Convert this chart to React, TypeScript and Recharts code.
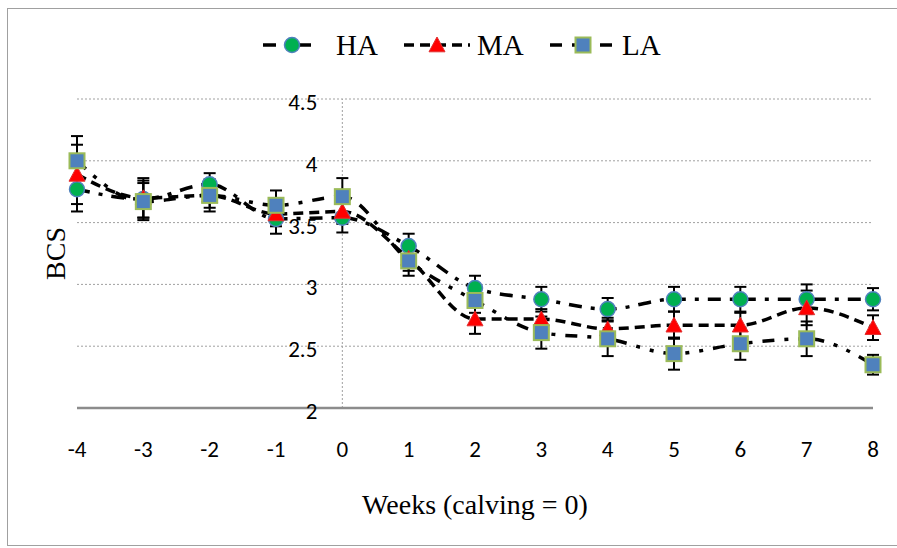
import { LineChart, Line, XAxis, YAxis, CartesianGrid, ReferenceLine, ErrorBar, Label } from 'recharts';

// weeks relative to calving
const weeks = [-4, -3, -2, -1, 0, 1, 2, 3, 4, 5, 6, 7, 8];
const yTicks = [2, 2.5, 3, 3.5, 4, 4.5];

// body condition score, high / medium / low groups
const haValues = [3.77, 3.69, 3.81, 3.53, 3.54, 3.31, 2.97, 2.88, 2.8, 2.88, 2.88, 2.88, 2.88];
const maValues = [3.89, 3.7, 3.72, 3.57, 3.59, 3.21, 2.72, 2.72, 2.64, 2.67, 2.67, 2.81, 2.65];
const laValues = [4.0, 3.67, 3.72, 3.64, 3.71, 3.19, 2.87, 2.61, 2.56, 2.44, 2.52, 2.56, 2.35];

// standard errors
const haErrors = [0.18, 0.15, 0.09, 0.12, 0.12, 0.1, 0.1, 0.1, 0.09, 0.1, 0.1, 0.12, 0.09];
const maErrors = [0.24, 0.16, 0.1, 0.1, 0.1, 0.1, 0.12, 0.08, 0.09, 0.11, 0.1, 0.14, 0.1];
const laErrors = [0.2, 0.15, 0.13, 0.12, 0.15, 0.12, 0.1, 0.13, 0.14, 0.13, 0.13, 0.14, 0.08];

const data = weeks.map((w, i) => ({
  week: w,
  ha: haValues[i],
  haErr: haErrors[i],
  ma: maValues[i],
  maErr: maErrors[i],
  la: laValues[i],
  laErr: laErrors[i],
}));

const W = 897;
const H = 548;
const PLOT_LEFT = 77;
const PLOT_RIGHT = 873;
const PLOT_TOP = 99;
const PLOT_BOTTOM = 408;
const X_ZERO = PLOT_LEFT + ((0 - weeks[0]) / (weeks[weeks.length - 1] - weeks[0])) * (PLOT_RIGHT - PLOT_LEFT);

const SERIF = '"Liberation Serif", "Times New Roman", serif';
const TICK_FONT = 'Carlito, "Liberation Sans Narrow", "DejaVu Sans Condensed", sans-serif';

const HA_DASH = '13 9 4 9';
const MA_DASH = '10 6';
const LA_DASH = '12 10 4 10 4 10';

function Circle({ cx, cy }: any) {
  if (cx == null || cy == null) return null;
  return <circle cx={cx} cy={cy} r={7.5} fill="#00B050" stroke="#4F81BD" strokeWidth={1.5} />;
}

function Triangle({ cx, cy }: any) {
  if (cx == null || cy == null) return null;
  const s = 8;
  return (
    <polygon
      points={`${cx},${cy - s} ${cx + s},${cy + s * 0.85} ${cx - s},${cy + s * 0.85}`}
      fill="#FF0000"
      stroke="#E03030"
      strokeWidth={1}
    />
  );
}

function Square({ cx, cy }: any) {
  if (cx == null || cy == null) return null;
  return <rect x={cx - 7.5} y={cy - 7.5} width={15} height={15} fill="#4F81BD" stroke="#9BBB59" strokeWidth={2} />;
}

function YTick({ y, payload }: any) {
  return (
    <text x={X_ZERO - 25} y={y + 3} textAnchor="end" dominantBaseline="central" fontFamily={TICK_FONT} fontSize={23} fill="#000">
      {payload.value}
    </text>
  );
}

function XTick({ x, payload }: any) {
  return (
    <text x={x} y={PLOT_BOTTOM + 41} textAnchor="middle" dominantBaseline="central" fontFamily={TICK_FONT} fontSize={23} fill="#000">
      {payload.value}
    </text>
  );
}

function ChartLegend() {
  const y = 45;
  return (
    <svg width={W} height={80} style={{ position: 'absolute', left: 0, top: 0 }}>
      <line x1={263} y1={y} x2={318} y2={y} stroke="#000" strokeWidth={3.5} strokeDasharray={HA_DASH} />
      <Circle cx={292} cy={y} />
      <text x={336} y={y + 10} fontFamily={SERIF} fontSize={29}>HA</text>

      <line x1={404} y1={y} x2={470} y2={y} stroke="#000" strokeWidth={3.5} strokeDasharray={MA_DASH} />
      <Triangle cx={437} cy={y} />
      <text x={477} y={y + 10} fontFamily={SERIF} fontSize={29}>MA</text>

      <line x1={550} y1={y} x2={612} y2={y} stroke="#000" strokeWidth={3.5} strokeDasharray={LA_DASH} />
      <Square cx={583} cy={y} />
      <text x={622} y={y + 10} fontFamily={SERIF} fontSize={29}>LA</text>
    </svg>
  );
}

export default function App() {
  return (
    <div style={{ position: 'absolute', left: 0, top: 0, width: W, height: H, overflow: 'hidden', background: '#fff' }}>
      <div
        style={{
          position: 'absolute',
          left: 7,
          top: 8,
          width: 900,
          height: 538,
          border: '1.5px solid #a0a0a0',
          boxSizing: 'border-box',
        }}
      />
      <LineChart
        width={W}
        height={H}
        data={data}
        margin={{ top: PLOT_TOP, right: W - PLOT_RIGHT, left: 0, bottom: 0 }}
        style={{ position: 'absolute', left: 0, top: 0 }}
      >
        <CartesianGrid horizontal vertical={false} stroke="#a0a0a0" strokeDasharray="2 2" />
        <ReferenceLine x={0} stroke="#a0a0a0" strokeDasharray="2 2" />
        <XAxis
          dataKey="week"
          type="number"
          domain={[weeks[0], weeks[weeks.length - 1]]}
          ticks={weeks}
          height={H - PLOT_BOTTOM}
          axisLine={{ stroke: '#8c8c8c', strokeWidth: 2.5 }}
          tickLine={false}
          tick={<XTick />}
          interval={0}
        >
          <Label
            value="Weeks (calving = 0)"
            position="insideBottom"
            offset={34}
            style={{ fontFamily: SERIF, fontSize: 28, fill: '#000' }}
          />
        </XAxis>
        <YAxis
          type="number"
          domain={[yTicks[0], yTicks[yTicks.length - 1]]}
          ticks={yTicks}
          width={PLOT_LEFT}
          axisLine={false}
          tickLine={false}
          tick={<YTick />}
          interval={0}
        >
          <Label
            value="BCS"
            angle={-90}
            position="insideLeft"
            dx={50}
            style={{ fontFamily: SERIF, fontSize: 28, fill: '#000', textAnchor: 'middle' }}
          />
        </YAxis>
        <Line
          dataKey="ha"
          type="monotone"
          stroke="#000"
          strokeWidth={3.5}
          strokeDasharray={HA_DASH}
          dot={<Circle />}
          activeDot={false}
          isAnimationActive={false}
        >
          <ErrorBar dataKey="haErr" direction="y" width={6} stroke="#000" strokeWidth={2} />
        </Line>
        <Line
          dataKey="ma"
          type="monotone"
          stroke="#000"
          strokeWidth={3.5}
          strokeDasharray={MA_DASH}
          dot={<Triangle />}
          activeDot={false}
          isAnimationActive={false}
        >
          <ErrorBar dataKey="maErr" direction="y" width={6} stroke="#000" strokeWidth={2} />
        </Line>
        <Line
          dataKey="la"
          type="monotone"
          stroke="#000"
          strokeWidth={3.5}
          strokeDasharray={LA_DASH}
          dot={<Square />}
          activeDot={false}
          isAnimationActive={false}
        >
          <ErrorBar dataKey="laErr" direction="y" width={6} stroke="#000" strokeWidth={2} />
        </Line>
      </LineChart>
      <ChartLegend />
    </div>
  );
}
